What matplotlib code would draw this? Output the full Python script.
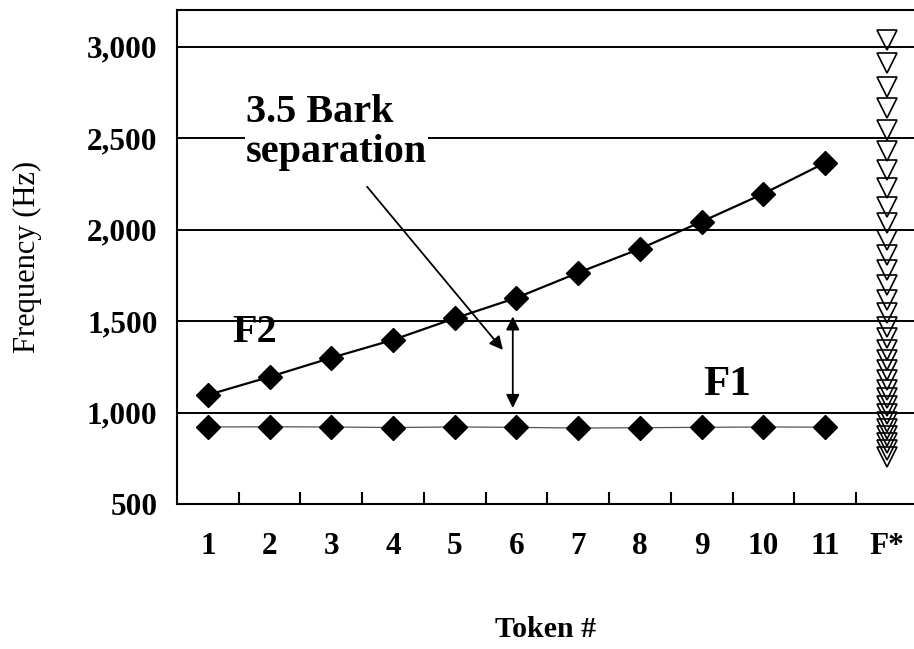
import numpy as np
import matplotlib
matplotlib.use('Agg')
import matplotlib.pyplot as plt

plt.rcParams['font.family'] = ['Liberation Serif', 'DejaVu Serif']

# token numbers and formant values (Hz)
tokens = [1, 2, 3, 4, 5, 6, 7, 8, 9, 10, 11]
f2 = [1096, 1195, 1299, 1397, 1515, 1627, 1764, 1895, 2043, 2196, 2365]
f1 = [921, 922, 921, 918, 921, 919, 915, 917, 919, 921, 920]

# F* column, one frequency per step
fstar_x = 12
fstar = [3038, 2912, 2781, 2666, 2546, 2431, 2327, 2229, 2125, 2037,
         1944, 1862, 1780, 1698, 1616, 1545, 1468, 1408, 1342, 1288,
         1233, 1178, 1124, 1080, 1036, 992, 949, 910, 872, 834, 795, 757]

xlabels = ['1', '2', '3', '4', '5', '6', '7', '8', '9', '10', '11', 'F*']
yticks = [500, 1000, 1500, 2000, 2500, 3000]
ylabels = ['500', '1,000', '1,500', '2,000', '2,500', '3,000']

fig = plt.figure(figsize=(9.14, 6.49), dpi=100)
ax = fig.add_axes([177/914, 1 - 504/649, 1 - 177/914, (504 - 10)/649])

for y in yticks[1:]:
    ax.axhline(y, color='black', lw=1.4, zorder=1)

ax.plot(tokens, f1, color='#555555', lw=0.9, zorder=2)
ax.plot(tokens, f2, color='black', lw=1.6, zorder=2)
ax.plot(tokens, f1, ls='none', marker='D', ms=12.5, color='black', zorder=3)
ax.plot(tokens, f2, ls='none', marker='D', ms=12.5, color='black', zorder=3)
ax.plot([fstar_x]*len(fstar), fstar, ls='none', marker='v', ms=14,
        mfc='none', mec='black', mew=1.2, zorder=3)

ax.set_xlim(0.5, 12.44)
ax.set_ylim(500, 3200)

ax.set_xticks(range(1, 13))
ax.set_xticklabels(xlabels, fontsize=22.5, fontweight='bold')
ax.set_xticks(np.arange(1.5, 12, 1.0), minor=True)
ax.tick_params(axis='x', which='major', length=0, pad=20)
ax.tick_params(axis='x', which='minor', direction='in', length=9, width=1.5)

ax.set_yticks(yticks)
ax.set_yticklabels(ylabels, fontsize=22.5, fontweight='bold')
ax.tick_params(axis='y', length=0, pad=14)

for s in ['left', 'bottom', 'top']:
    ax.spines[s].set_linewidth(1.5)
ax.spines['right'].set_visible(False)

ax.set_ylabel('Frequency (Hz)', fontsize=22, labelpad=32)
ax.set_xlabel('Token #', fontsize=21.5, fontweight='bold', labelpad=40)

# labels and arrows
ax.text(1.76, 1435, 'F2', fontsize=29, fontweight='bold', ha='center', va='center')
ax.text(9.41, 1151, 'F1', fontsize=31, fontweight='bold', ha='center', va='center')
ax.text(1.62, 2530, '3.5 Bark\nseparation', fontsize=29, fontweight='bold',
        ha='left', va='center', linespacing=1.1, zorder=4,
        bbox=dict(facecolor='white', edgecolor='none', pad=1))
ax.annotate('', xy=(5.78, 1342), xytext=(3.58, 2234),
            arrowprops=dict(arrowstyle='-|>', color='black', lw=1.3,
                            mutation_scale=20, shrinkA=0, shrinkB=0))
ax.annotate('', xy=(5.94, 1025), xytext=(5.94, 1525),
            arrowprops=dict(arrowstyle='<|-|>', color='black', lw=1.3,
                            mutation_scale=20, shrinkA=0, shrinkB=0))

fig.savefig('out.png', dpi=100)
